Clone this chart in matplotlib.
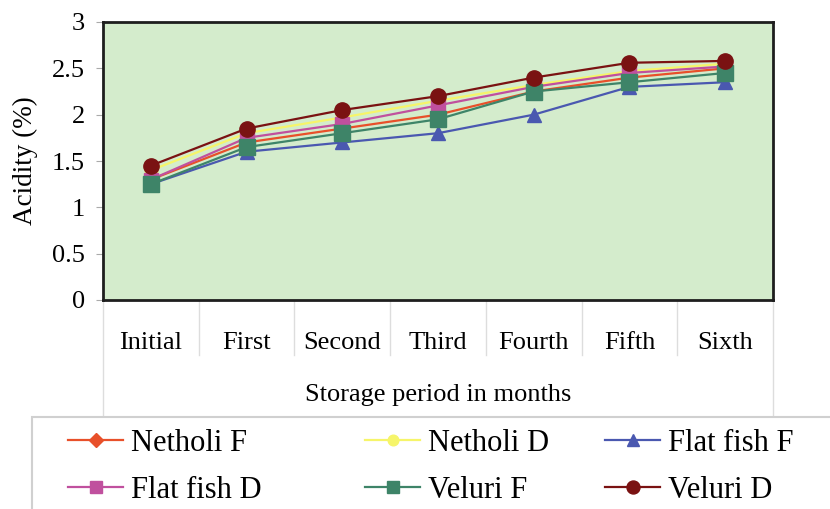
# Acidity during storage - line chart
import matplotlib.pyplot as plt
from matplotlib.lines import Line2D
from matplotlib.patches import Rectangle

plt.rcParams['font.family'] = ['Liberation Serif', 'DejaVu Serif']

months = ["Initial", "First", "Second", "Third", "Fourth", "Fifth", "Sixth"]

netholi_f = [1.30, 1.70, 1.85, 2.00, 2.25, 2.40, 2.50]
netholi_d = [1.40, 1.80, 1.97, 2.15, 2.32, 2.47, 2.55]
flatfish_f = [1.25, 1.60, 1.70, 1.80, 2.00, 2.30, 2.35]
flatfish_d = [1.30, 1.75, 1.90, 2.10, 2.30, 2.45, 2.52]
veluri_f = [1.25, 1.65, 1.80, 1.95, 2.25, 2.35, 2.45]
veluri_d = [1.45, 1.85, 2.05, 2.20, 2.40, 2.56, 2.58]

series = [
    ("Netholi F", netholi_f, "#E8502A", "D", 8),
    ("Netholi D", netholi_d, "#F6F56A", "o", 9),
    ("Flat fish F", flatfish_f, "#4A58B0", "^", 10),
    ("Flat fish D", flatfish_d, "#C0509E", "s", 10),
    ("Veluri F", veluri_f, "#3E8468", "s", 11),
    ("Veluri D", veluri_d, "#7A1212", "o", 11),
]

W, H = 830, 509
fig = plt.figure(figsize=(8.3, 5.09), dpi=100)
ax = fig.add_axes([103 / W, 1 - 300 / H, 670 / W, 278 / H])
ax.set_facecolor("#D4ECCC")

x = list(range(len(months)))
for name, vals, col, mk, ms in series:
    ax.plot(x, vals, color=col, marker=mk, markersize=ms, linewidth=1.6, label=name)

ax.set_xlim(-0.5, len(months) - 0.5)
ax.set_ylim(0, 3)
ax.set_yticks([0, 0.5, 1, 1.5, 2, 2.5, 3])
ax.set_yticklabels(["0", "0.5", "1", "1.5", "2", "2.5", "3"])
ax.tick_params(axis="y", labelsize=19, length=5, color="#aaaaaa", pad=8)
ax.set_xticks(x)
ax.set_xticklabels(months)
ax.tick_params(axis="x", labelsize=19, length=0, pad=23)
for s in ax.spines.values():
    s.set_linewidth(2)
    s.set_color("#1e1e1e")
ax.set_ylabel("Acidity (%)", fontsize=19.5, labelpad=10)
ax.set_xlabel("Storage period in months", fontsize=19, labelpad=22)

# faint category separators below the axis
for b in range(1, len(months)):
    ax.plot([b - 0.5, b - 0.5], [0, -55 / 92.7], color="#dddddd", lw=1, clip_on=False)
ax.plot([-0.5, -0.5], [0, -117 / 92.7], color="#dddddd", lw=1, clip_on=False)
ax.plot([6.5, 6.5], [0, -117 / 92.7], color="#dddddd", lw=1, clip_on=False)

# legend box
fig.patches.append(Rectangle((32 / W, -0.02), 0.99, (509 - 417) / H + 0.02,
                             transform=fig.transFigure, facecolor="white",
                             edgecolor="#d0d0d0", lw=1.5))

handles = [Line2D([], [], color=col, marker=mk, markersize=ms * 0.85, lw=1.6)
           for name, vals, col, mk, ms in series]
labels = [s[0] for s in series]
col_x = [68, 365, 605]
for c in range(3):
    idx = [c, c + 3]
    fig.legend([handles[i] for i in idx], [labels[i] for i in idx],
               loc="upper left", bbox_to_anchor=(col_x[c] / W, 1 - 429 / H),
               fontsize=22, frameon=False, handlelength=1.8, handletextpad=0.25,
               borderpad=0, borderaxespad=0, labelspacing=0.58)

fig.savefig("out.png", dpi=100)
